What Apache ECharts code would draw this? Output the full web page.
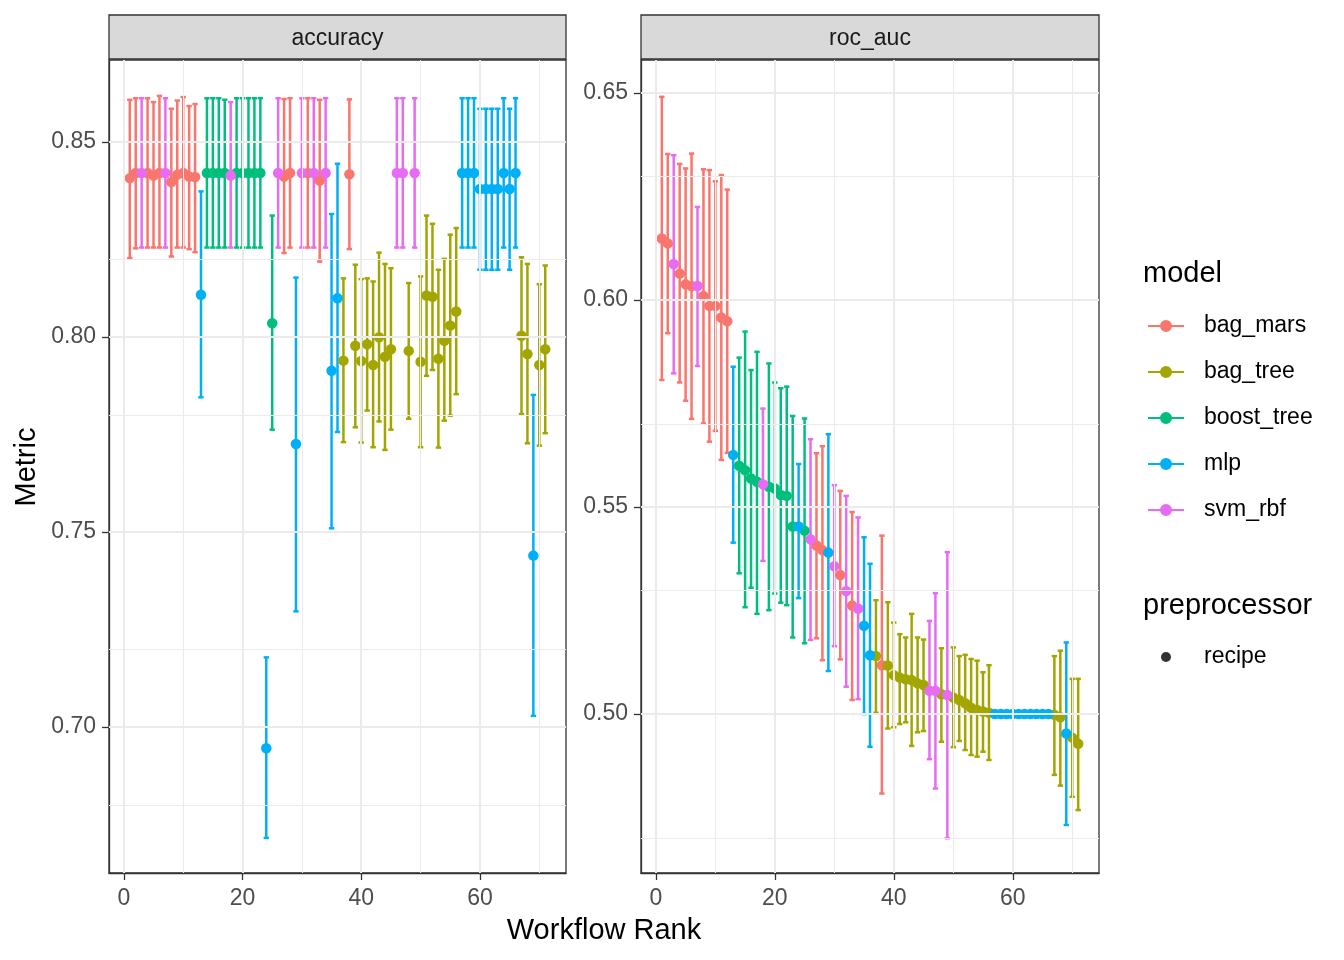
<!DOCTYPE html>
<html>
<head>
<meta charset="utf-8">
<script src="https://cdn.jsdelivr.net/npm/echarts@6/dist/echarts.min.js"></script>
<style>
  html, body { margin: 0; padding: 0; background: #fff; }
  #main { width: 1344px; height: 960px; }
</style>
</head>
<body>
<div id="main"></div>
<script>
// workflow ranks and the model behind each rank
var ranks = [1,2,3,4,5,6,7,8,9,10,11,12,13,14,15,16,17,18,19,20,21,22,23,24,25,26,27,28,29,30,
  31,32,33,34,35,36,37,38,39,40,41,42,43,44,45,46,47,48,49,50,51,52,53,54,55,56,57,58,59,60,
  61,62,63,64,65,66,67,68,69,70,71];
var rankModel = ['bag_mars','bag_mars','svm_rbf','bag_mars','bag_mars','bag_mars','svm_rbf','bag_mars','bag_mars','bag_mars',
  'bag_mars','bag_mars','mlp','boost_tree','boost_tree','boost_tree','boost_tree','svm_rbf','boost_tree','boost_tree',
  'boost_tree','boost_tree','boost_tree','mlp','boost_tree','svm_rbf','bag_mars','bag_mars','mlp','svm_rbf',
  'bag_mars','svm_rbf','bag_mars','svm_rbf','mlp','mlp','bag_tree','bag_mars','bag_tree','bag_tree',
  'bag_tree','bag_tree','bag_tree','bag_tree','bag_tree','svm_rbf','svm_rbf','bag_tree','svm_rbf','bag_tree',
  'bag_tree','bag_tree','bag_tree','bag_tree','bag_tree','bag_tree','mlp','mlp','mlp','mlp',
  'mlp','mlp','mlp','mlp','mlp','mlp','bag_tree','bag_tree','mlp','bag_tree','bag_tree'];

var models = ['bag_mars', 'bag_tree', 'boost_tree', 'mlp', 'svm_rbf'];
var modelColors = ['#F8766D', '#A3A500', '#00BF7D', '#00B0F6', '#E76BF3'];
var preprocessors = ['recipe'];

// accuracy panel
var accMean = [0.8407,0.8420,0.8420,0.8420,0.8414,0.8420,0.8420,0.8397,0.8416,0.8420,
  0.8411,0.8410,0.8108,0.8420,0.8420,0.8420,0.8420,0.8414,0.8420,0.8420,
  0.8420,0.8420,0.8420,0.6945,0.8035,0.8420,0.8411,0.8420,0.7725,0.8420,
  0.8420,0.8420,0.8401,0.8420,0.7913,0.8099,0.7939,0.8417,0.7977,0.7938,
  0.7981,0.7928,0.7999,0.7949,0.7968,0.8420,0.8420,0.7964,0.8420,0.7936,
  0.8106,0.8103,0.7944,0.7990,0.8029,0.8065,0.8420,0.8420,0.8420,0.8379,
  0.8379,0.8379,0.8379,0.8420,0.8379,0.8420,0.8003,0.7956,0.7439,0.7928,0.7968];
var accLower = [0.8202,0.8227,0.8229,0.8229,0.8229,0.8229,0.8229,0.8206,0.8229,0.8229,
  0.8225,0.8217,0.7845,0.8229,0.8229,0.8229,0.8229,0.8229,0.8229,0.8229,
  0.8229,0.8229,0.8229,0.6715,0.7762,0.8229,0.8215,0.8229,0.7296,0.8229,
  0.8229,0.8229,0.8193,0.8229,0.7509,0.7756,0.7730,0.8225,0.7768,0.7729,
  0.7811,0.7717,0.7783,0.7710,0.7762,0.8229,0.8229,0.7790,0.8229,0.7717,
  0.7900,0.7915,0.7716,0.7785,0.7798,0.7853,0.8229,0.8229,0.8229,0.8172,
  0.8172,0.8172,0.8172,0.8229,0.8172,0.8229,0.7802,0.7727,0.7028,0.7721,0.7753];
var accUpper = [0.8608,0.8612,0.8612,0.8612,0.8602,0.8618,0.8612,0.8585,0.8606,0.8615,
  0.8592,0.8597,0.8373,0.8612,0.8612,0.8612,0.8608,0.8602,0.8612,0.8612,
  0.8612,0.8612,0.8612,0.7178,0.8311,0.8612,0.8610,0.8612,0.8152,0.8612,
  0.8612,0.8612,0.8608,0.8612,0.8315,0.8444,0.8150,0.8609,0.8185,0.8148,
  0.8150,0.8142,0.8216,0.8187,0.8176,0.8612,0.8612,0.8138,0.8612,0.8155,
  0.8311,0.8290,0.8172,0.8200,0.8262,0.8279,0.8612,0.8612,0.8612,0.8585,
  0.8585,0.8585,0.8585,0.8612,0.8585,0.8612,0.8204,0.8187,0.7851,0.8135,0.8183];

// roc_auc panel
var rocMean = [0.6149,0.6137,0.6087,0.6064,0.6038,0.6034,0.6034,0.6010,0.5986,0.5986,
  0.5958,0.5949,0.5626,0.5600,0.5589,0.5569,0.5561,0.5555,0.5549,0.5545,
  0.5529,0.5527,0.5453,0.5453,0.5443,0.5422,0.5407,0.5396,0.5390,0.5357,
  0.5336,0.5297,0.5262,0.5255,0.5213,0.5142,0.5140,0.5118,0.5117,0.5094,
  0.5088,0.5084,0.5082,0.5074,0.5070,0.5056,0.5056,0.5048,0.5046,0.5040,
  0.5034,0.5026,0.5015,0.5010,0.5006,0.5003,0.5000,0.5000,0.5000,0.5000,
  0.5000,0.5000,0.5000,0.5000,0.5000,0.5000,0.4998,0.4992,0.4953,0.4943,0.4928];
var rocLower = [0.5807,0.5920,0.5823,0.5801,0.5757,0.5713,0.5841,0.5702,0.5658,0.5684,
  0.5614,0.5631,0.5414,0.5340,0.5258,0.5305,0.5242,0.5370,0.5251,0.5291,
  0.5269,0.5263,0.5185,0.5280,0.5171,0.5179,0.5183,0.5130,0.5104,0.5164,
  0.5132,0.5066,0.5034,0.5036,0.5000,0.4921,0.5003,0.4808,0.4965,0.4968,
  0.4976,0.4980,0.4923,0.4956,0.4959,0.4891,0.4820,0.4933,0.4700,0.4920,
  0.4935,0.4913,0.4901,0.4897,0.4909,0.4889,0.4998,0.4998,0.4998,0.4998,
  0.4998,0.4998,0.4998,0.4998,0.4998,0.4998,0.4853,0.4827,0.4732,0.4800,0.4768];
var rocUpper = [0.6491,0.6353,0.6350,0.6329,0.6318,0.6354,0.6225,0.6316,0.6314,0.6287,
  0.6302,0.6267,0.5839,0.5861,0.5924,0.5831,0.5875,0.5738,0.5847,0.5801,
  0.5787,0.5791,0.5720,0.5604,0.5714,0.5664,0.5630,0.5647,0.5676,0.5553,
  0.5539,0.5527,0.5488,0.5475,0.5427,0.5363,0.5275,0.5431,0.5270,0.5221,
  0.5193,0.5185,0.5242,0.5185,0.5180,0.5225,0.5292,0.5159,0.5391,0.5161,
  0.5140,0.5143,0.5133,0.5129,0.5101,0.5118,0.5002,0.5002,0.5002,0.5002,
  0.5002,0.5002,0.5002,0.5002,0.5002,0.5002,0.5140,0.5153,0.5173,0.5085,0.5085];

// tick labels / grid lines
var xMajor = [0, 20, 40, 60];
var xMinor = [10, 30, 50, 70];
var accMajor = [0.70, 0.75, 0.80, 0.85];
var accMinor = [0.675, 0.725, 0.775, 0.825];
var rocMajor = [0.50, 0.55, 0.60, 0.65];
var rocMinor = [0.475, 0.525, 0.575, 0.625];

var FONT = 'Liberation Sans';
var myChart = echarts.init(document.getElementById('main'));

function onTicks(list, digits) {
  return function (v) {
    for (var i = 0; i < list.length; i++) {
      if (Math.abs(list[i] - v) < 1e-6) return digits ? v.toFixed(digits) : String(v);
    }
    return '';
  };
}

function renderErrorBar(params, api) {
  var x = api.value(0);
  var lo = api.coord([x, api.value(1)]);
  var hi = api.coord([x, api.value(2)]);
  var half = api.size([0.9, 0])[0] / 2;
  var color = api.visual('color');
  function seg(x1, y1, x2, y2) {
    return { type: 'line', shape: { x1: x1, y1: y1, x2: x2, y2: y2 },
      style: { stroke: color, lineWidth: 2.5 } };
  }
  return { type: 'group', children: [
    seg(lo[0], lo[1], hi[0], hi[1]),
    seg(lo[0] - half, lo[1], lo[0] + half, lo[1]),
    seg(hi[0] - half, hi[1], hi[0] + half, hi[1])
  ]};
}

function gridLines(idx, yMajor, yMinor) {
  var major = xMajor.map(function (v) { return { xAxis: v }; })
    .concat(yMajor.map(function (v) { return { yAxis: v }; }));
  var minor = xMinor.map(function (v) { return { xAxis: v }; })
    .concat(yMinor.map(function (v) { return { yAxis: v }; }));
  return [
    { type: 'line', name: 'major' + idx, xAxisIndex: idx, yAxisIndex: idx, data: [], z: 1, silent: true,
      markLine: { silent: true, animation: false, symbol: 'none', label: { show: false },
        lineStyle: { color: '#EBEBEB', width: 2, type: 'solid' }, emphasis: { disabled: true }, data: major } },
    { type: 'line', name: 'minor' + idx, xAxisIndex: idx, yAxisIndex: idx, data: [], z: 1, silent: true,
      markLine: { silent: true, animation: false, symbol: 'none', label: { show: false },
        lineStyle: { color: '#EBEBEB', width: 1, type: 'solid' }, emphasis: { disabled: true }, data: minor } }
  ];
}

var series = [].concat(gridLines(0, accMajor, accMinor), gridLines(1, rocMajor, rocMinor));

var panels = [
  { mean: accMean, lower: accLower, upper: accUpper },
  { mean: rocMean, lower: rocLower, upper: rocUpper }
];

panels.forEach(function (p, idx) {
  models.forEach(function (m, k) {
    var pts = [], bars = [];
    for (var i = 0; i < ranks.length; i++) {
      if (rankModel[i] !== m) continue;
      pts.push([ranks[i], p.mean[i]]);
      bars.push([ranks[i], p.lower[i], p.upper[i]]);
    }
    series.push({
      type: 'scatter', name: m, xAxisIndex: idx, yAxisIndex: idx, z: 4,
      symbol: 'circle', symbolSize: 10.5, data: pts,
      itemStyle: { color: modelColors[k], opacity: 1 }
    });
    series.push({
      type: 'custom', name: m, xAxisIndex: idx, yAxisIndex: idx, z: 3,
      renderItem: renderErrorBar, data: bars,
      itemStyle: { color: modelColors[k] }
    });
  });
});

series.push({ type: 'scatter', name: 'recipe', data: [], itemStyle: { color: '#000' } });

var legendIcon = 'path://M0,5L36,5L36,7L0,7Z M18,0A6,6,0,1,1,18,12A6,6,0,1,1,18,0Z';

var axisLineStyle = { show: true, onZero: false, lineStyle: { color: '#333', width: 1.3 } };

function xAxisCfg(idx) {
  return {
    type: 'value', gridIndex: idx, min: -2.5, max: 74.5, splitNumber: 4,
    axisLine: axisLineStyle,
    axisTick: { show: true, inside: false, length: 7, customValues: xMajor, lineStyle: { color: '#333', width: 1.3 } },
    axisLabel: { color: '#4D4D4D', fontSize: 23, fontFamily: FONT, margin: 14, customValues: xMajor,
      formatter: onTicks(xMajor, 0) },
    splitLine: { show: false }
  };
}
function yAxisCfg(idx, min, max, ticks) {
  return {
    type: 'value', gridIndex: idx, min: min, max: max, splitNumber: 4,
    axisLine: axisLineStyle,
    axisTick: { show: true, inside: false, length: 7, customValues: ticks, lineStyle: { color: '#333', width: 1.3 } },
    axisLabel: { color: '#4D4D4D', fontSize: 23, fontFamily: FONT, margin: 13, customValues: ticks,
      padding: [5, 0, 0, 0], formatter: onTicks(ticks, 2) },
    splitLine: { show: false }
  };
}

function strip(x, w, label) {
  return [
    { type: 'rect', shape: { x: x, y: 15, width: w, height: 44 },
      style: { fill: '#D9D9D9', stroke: '#333', lineWidth: 1.3 }, z: 10 },
    { type: 'text', x: x + w / 2, y: 39, z: 11,
      style: { text: label, fill: '#1A1A1A', font: '23px "' + FONT + '"', align: 'center', verticalAlign: 'middle' } }
  ];
}

var gridBase = { show: true, backgroundColor: '#fff', borderColor: '#333', borderWidth: 1.3, outerBoundsMode: 'none', containLabel: false };

var option = {
  animation: false,
  backgroundColor: '#fff',
  textStyle: { fontFamily: FONT },
  grid: [
    Object.assign({ left: 109, top: 60, width: 457, height: 813 }, gridBase),
    Object.assign({ left: 641, top: 60, width: 458, height: 813 }, gridBase)
  ],
  xAxis: [xAxisCfg(0), xAxisCfg(1)],
  yAxis: [
    yAxisCfg(0, 0.6625, 0.8710, accMajor),
    yAxisCfg(1, 0.4616, 0.6580, rocMajor)
  ],
  legend: [
    {
      orient: 'vertical', left: 1143, top: 309, selectedMode: false,
      itemWidth: 36, itemHeight: 12, itemGap: 22,
      data: models.map(function (m) { return { name: m, icon: legendIcon }; }),
      textStyle: { fontSize: 23, color: '#000', fontFamily: FONT, lineHeight: 24, padding: [0, 0, 0, 15] }
    },
    {
      orient: 'vertical', left: 1156, top: 640, selectedMode: false,
      itemWidth: 36, itemHeight: 10,
      data: preprocessors.map(function (m) { return { name: m, icon: 'circle' }; }),
      textStyle: { fontSize: 23, color: '#000', fontFamily: FONT, lineHeight: 24, padding: [0, 0, 0, 15] }
    }
  ],
  graphic: [].concat(
    strip(109, 457, 'accuracy'),
    strip(641, 458, 'roc_auc'),
    [
      { type: 'text', x: 27, y: 467, rotation: Math.PI / 2, style: { text: 'Metric', fill: '#000', font: '29px "' + FONT + '"', align: 'center', verticalAlign: 'middle' } },
      { type: 'text', x: 604, y: 931, style: { text: 'Workflow Rank', fill: '#000', font: '29px "' + FONT + '"', align: 'center', verticalAlign: 'middle' } },
      { type: 'text', x: 1143, y: 274, style: { text: 'model', fill: '#000', font: '29px "' + FONT + '"', align: 'left', verticalAlign: 'middle' } },
      { type: 'text', x: 1143, y: 606, style: { text: 'preprocessor', fill: '#000', font: '29px "' + FONT + '"', align: 'left', verticalAlign: 'middle' } }
    ]
  ),
  series: series
};

myChart.setOption(option);
</script>
</body>
</html>
